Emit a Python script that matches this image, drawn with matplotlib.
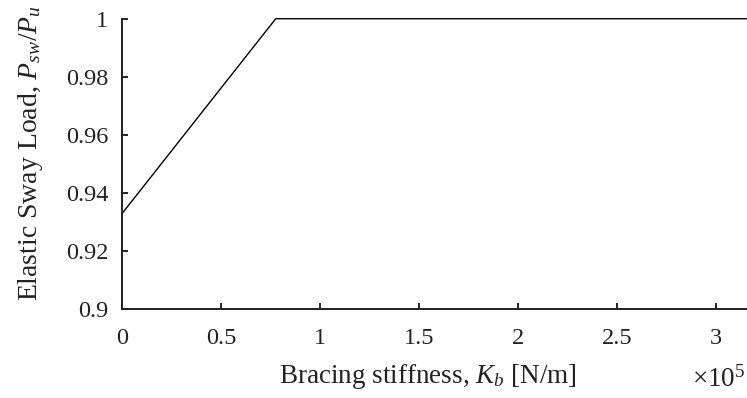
import numpy as np
import matplotlib
matplotlib.use("Agg")
import matplotlib.pyplot as plt

# data
k_b = [0.0, 0.775e5, 3.2e5]        # bracing stiffness [N/m]
p_ratio = [0.9329, 1.0, 1.0]       # P_sw / P_u

x_ticks = [0, 0.5e5, 1e5, 1.5e5, 2e5, 2.5e5, 3e5]
x_labels = ["0", "0.5", "1", "1.5", "2", "2.5", "3"]
y_ticks = [0.9, 0.92, 0.94, 0.96, 0.98, 1.0]
y_labels = ["0.9", "0.92", "0.94", "0.96", "0.98", "1"]

plt.rcParams["font.family"] = "Liberation Serif"
plt.rcParams["mathtext.fontset"] = "custom"
plt.rcParams["mathtext.rm"] = "Liberation Serif"
plt.rcParams["mathtext.it"] = "Liberation Serif:italic"

fig = plt.figure(figsize=(7.47, 3.98), dpi=100)
ax = fig.add_axes([0.1637, 0.2244, 0.8363, 0.7286])

ax.plot(k_b, p_ratio, color="black", lw=1.0, clip_on=False)

ax.set_xlim(0, 3.155e5)
ax.set_ylim(0.9, 1.0)
ax.set_xticks(x_ticks)
ax.set_xticklabels(x_labels)
ax.set_yticks(y_ticks)
ax.set_yticklabels(y_labels)

for side in ["top", "right"]:
    ax.spines[side].set_visible(False)
for side in ["left", "bottom"]:
    ax.spines[side].set_linewidth(1.4)
    ax.spines[side].set_color("#222222")

ax.tick_params(direction="in", length=4, width=1.4, labelsize=17.5,
               colors="#222222")
ax.tick_params(axis="x", pad=14)
ax.tick_params(axis="y", pad=10)

ax.set_xlabel(r"Bracing stiffness, $K_b$ [N/m]", fontsize=19.5, color="#222222")
ax.xaxis.set_label_coords(0.49, -0.185)
ax.set_ylabel(r"Elastic Sway Load, $P_{sw}$/$P_u$", fontsize=20, color="#222222")
ax.yaxis.set_label_coords(-0.124, 0.535)

fig.text(745 / 747, 0.028, r"$\times10^5$", fontsize=19.5, ha="right",
         va="baseline", color="#222222")

fig.savefig("out.png", dpi=100)
